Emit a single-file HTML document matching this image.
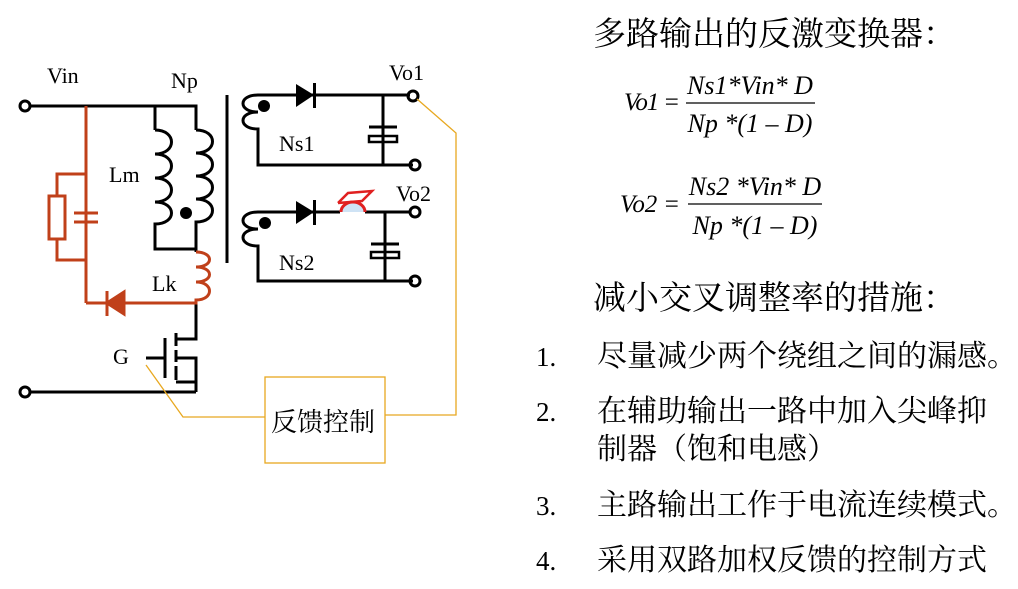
<!DOCTYPE html>
<html><head><meta charset="utf-8"><style>
html,body{margin:0;padding:0;background:#fff;}
svg{display:block}
.s{font-family:"Liberation Serif","Noto Serif CJK SC",serif;}
</style></head><body>
<svg width="1018" height="589" viewBox="0 0 1018 589" xmlns="http://www.w3.org/2000/svg">
<g fill="none" stroke="#000" stroke-width="3">
 <polyline points="30,106 196,106 196,130"/>
 <line x1="155" y1="106" x2="155" y2="130"/>
 <path d="M155,130 c22,0 22,24 0,24 c22,0 22,24 0,24 c22,0 22,24 0,24 c22,0 22,22 0,22 L155,249 L196,249"/>
 <path d="M196,130 c22,0 22,23 0,23 c22,0 22,23 0,23 c22,0 22,23 0,23 c22,0 22,23 0,23 L196,249 L196,252"/>
 <line x1="227" y1="95" x2="227" y2="263" stroke-width="3"/>
 <polyline points="196,303 196,339 176,339"/>
 <line x1="176" y1="333" x2="176" y2="346"/>
 <line x1="176" y1="350" x2="176" y2="362"/>
 <line x1="176" y1="366" x2="176" y2="380"/>
 <line x1="165" y1="338" x2="165" y2="378"/>
 <line x1="146" y1="358" x2="165" y2="358"/>
 <polyline points="176,358 196,358 196,392"/>
 <line x1="176" y1="382" x2="196" y2="382"/>
 <line x1="30" y1="392" x2="196" y2="392"/>
 <path d="M258,95 c-20,0 -20,17 0,17 c-20,0 -20,17 0,17 L258,165 L413,165"/>
 <line x1="258" y1="95" x2="410" y2="95"/>
 <line x1="383" y1="95" x2="383" y2="165"/>
 <line x1="369" y1="127" x2="397" y2="127"/>
 <rect x="369" y="136" width="28" height="6" stroke-width="2.5"/>
 <path d="M258,212 c-20,0 -20,17 0,17 c-20,0 -20,17 0,17 L258,281 L413,281"/>
 <line x1="258" y1="212" x2="340" y2="212"/>
 <line x1="365" y1="212" x2="410" y2="212"/>
 <line x1="385" y1="212" x2="385" y2="281"/>
 <line x1="371" y1="244" x2="399" y2="244"/>
 <rect x="371" y="252" width="28" height="6" stroke-width="2.5"/>
 <circle cx="25" cy="106" r="5"/>
 <circle cx="25" cy="392" r="5"/>
 <circle cx="413" cy="96" r="5"/>
 <circle cx="415" cy="165" r="5"/>
 <circle cx="415" cy="212" r="5"/>
 <circle cx="415" cy="281" r="5"/>
</g>
<g fill="#000">
 <circle cx="186" cy="213" r="6"/>
 <circle cx="264" cy="106" r="6"/>
 <circle cx="265" cy="223" r="6"/>
 <polygon points="296,84 314,95 296,107"/>
 <rect x="313" y="83" width="3" height="25"/>
 <polygon points="296,201 314,212 296,224"/>
 <rect x="313" y="200" width="3" height="25"/>
</g>
<g fill="none" stroke="#c0401a" stroke-width="3">
 <line x1="86" y1="106" x2="86" y2="303"/>
 <polyline points="86,174 57,174 57,260 86,260"/>
 <rect x="49" y="196" width="16" height="43" fill="#fff"/>
 <line x1="74" y1="213" x2="98" y2="213"/>
 <line x1="74" y1="222" x2="98" y2="222"/>
 <path d="M196,252 c18,0 18,15 0,15 c18,0 18,15 0,15 c18,0 18,18 0,18 L196,303 L86,303"/>
 <polygon points="107,303 124,292 124,314" fill="#c0401a"/>
 <line x1="107" y1="291" x2="107" y2="316"/>
</g>
<path d="M341,212 a12,10 0 0 1 24,0" fill="#cfe3f5" stroke="#e02020" stroke-width="3"/>
<polyline points="338,203 348,193 372,191 362,201 338,203" fill="none" stroke="#e02020" stroke-width="2.5"/>
<g fill="none" stroke="#e8a820" stroke-width="1.3">
 <polyline points="417,99 456,133 456,415 385,415"/>
 <rect x="265" y="377" width="120" height="86"/>
 <polyline points="265,417 183,417 146,365"/>
</g>
<g class="s" font-size="22" fill="#000">
 <text x="47" y="83">Vin</text>
 <text x="171" y="88">Np</text>
 <text x="109" y="182">Lm</text>
 <text x="152" y="291">Lk</text>
 <text x="113" y="364">G</text>
 <text x="279" y="151">Ns1</text>
 <text x="279" y="270">Ns2</text>
 <text x="389" y="80">Vo1</text>
 <text x="396" y="201">Vo2</text>
 <text x="271" y="431" font-size="26">反馈控制</text>
</g>
<g class="s" fill="#000">
 <text x="593" y="45" font-size="33">多路输出的反激变换器：</text>
 <text x="624" y="110" font-size="25" font-style="italic" textLength="56">Vo1 =</text>
 <text x="750" y="94" font-size="26" font-style="italic" text-anchor="middle">Ns1*Vin* D</text>
 <line x1="686" y1="103" x2="815" y2="103" stroke="#000" stroke-width="1.3"/>
 <text x="750" y="132" font-size="26" font-style="italic" text-anchor="middle">Np *(1 – D)</text>
 <text x="620" y="212" font-size="25" font-style="italic" textLength="60">Vo2 =</text>
 <text x="755" y="195" font-size="26" font-style="italic" text-anchor="middle">Ns2 *Vin* D</text>
 <line x1="688" y1="204" x2="822" y2="204" stroke="#000" stroke-width="1.3"/>
 <text x="755" y="234" font-size="26" font-style="italic" text-anchor="middle">Np *(1 – D)</text>
 <text x="593" y="309" font-size="33">减小交叉调整率的措施：</text>
 <g font-size="30">
  <text x="536" y="366" font-size="27">1.</text><text x="597" y="366">尽量减少两个绕组之间的漏感。</text>
  <text x="536" y="421" font-size="27">2.</text><text x="597" y="421">在辅助输出一路中加入尖峰抑</text>
  <text x="597" y="459">制器（饱和电感）</text>
  <text x="536" y="515" font-size="27">3.</text><text x="597" y="515">主路输出工作于电流连续模式。</text>
  <text x="536" y="570" font-size="27">4.</text><text x="597" y="570">采用双路加权反馈的控制方式</text>
 </g>
</g>
</svg>
</body></html>
